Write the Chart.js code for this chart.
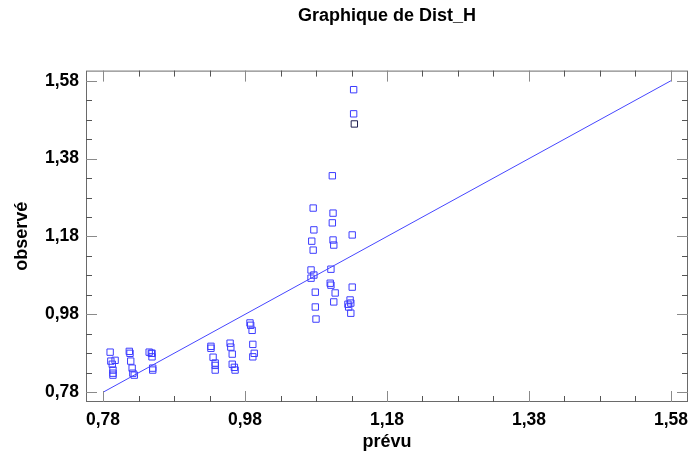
<!DOCTYPE html>
<html>
<head>
<meta charset="utf-8">
<script src="https://cdn.jsdelivr.net/npm/chart.js"></script>
<style>
html,body{margin:0;padding:0;background:#fff}
#wrap{width:689px;height:454px}
</style>
</head>
<body>
<div id="wrap"><canvas id="c" width="689" height="454"></canvas></div>
<script>
var prevu = [
    0.790, 0.791, 0.797, 0.793, 0.794, 0.794, 0.794,
    0.817, 0.818, 0.819, 0.821, 0.822, 0.824,
    0.845, 0.848, 0.849, 0.849, 0.850, 0.850,
    0.932, 0.932, 0.935, 0.938, 0.938, 0.938,
    0.959, 0.960, 0.962, 0.962, 0.965, 0.966,
    0.987, 0.988, 0.990, 0.991, 0.993, 0.991,
    1.076, 1.077, 1.074, 1.076, 1.073, 1.073, 1.077, 1.079, 1.079, 1.080,
    1.103, 1.104, 1.103, 1.104, 1.105, 1.101, 1.100, 1.101, 1.107, 1.105,
    1.133, 1.133, 1.131, 1.131, 1.128, 1.129, 1.125, 1.126, 1.129
]
var observe = [
    0.883, 0.860, 0.862, 0.852, 0.837, 0.829, 0.824,
    0.885, 0.880, 0.860, 0.842, 0.829, 0.824,
    0.883, 0.880, 0.880, 0.871, 0.842, 0.837,
    0.898, 0.893, 0.870, 0.855, 0.849, 0.837,
    0.906, 0.896, 0.878, 0.852, 0.844, 0.837,
    0.958, 0.952, 0.939, 0.903, 0.880, 0.871,
    1.253, 1.197, 1.168, 1.145, 1.094, 1.073, 1.081, 1.037, 0.999, 0.968,
    1.336, 1.240, 1.215, 1.171, 1.158, 1.096, 1.060, 1.055, 1.035, 1.012,
    1.557, 1.495, 1.184, 1.050, 1.017, 1.009, 1.006, 0.999, 0.983
]
// the one darker marker
var prevu_dark = [1.134]
var observe_dark = [1.469]

// reference line
var line_x = [0.78, 1.58]
var line_y = [0.78, 1.58]

var major_ticks = [0.78, 0.98, 1.18, 1.38, 1.58]
var minor_step = 0.05

function pts(xs, ys){
    var out = []
    for(var i = 0; i < xs.length; i++){
        out.push({x: xs[i], y: ys[i]})
    }
    return out
}

function fmt(v){
    return v.toFixed(2).replace('.', ',')
}

// frame on four sides and ticks pointing inward
var frame_ticks = {
    id: 'frameTicks',
    afterDraw: function(chart){
        var ctx = chart.ctx, a = chart.chartArea
        var sx = chart.scales.x, sy = chart.scales.y
        ctx.save()
        ctx.lineWidth = 1
        ctx.strokeStyle = '#6a6a6a'
        ctx.strokeRect(a.left + 0.5, a.top + 0.5, a.right - a.left - 1, a.bottom - a.top - 1)

        var all = []
        for(var v = major_ticks[0]; v <= major_ticks[major_ticks.length-1] + 1e-6; v += minor_step){
            all.push(Math.round(v * 100) / 100)
        }
        all.forEach(function(v){
            var major = major_ticks.some(function(m){ return Math.abs(m - v) < 1e-6 })
            var len = major ? 11 : 6
            ctx.strokeStyle = major ? '#8a8a8a' : '#555'
            var px = Math.round(sx.getPixelForValue(v)) + 0.5
            var py = Math.round(sy.getPixelForValue(v)) + 0.5
            ctx.beginPath()
            ctx.moveTo(px, a.bottom); ctx.lineTo(px, a.bottom - len)
            ctx.moveTo(px, a.top); ctx.lineTo(px, a.top + len)
            ctx.moveTo(a.left, py); ctx.lineTo(a.left + len, py)
            ctx.moveTo(a.right, py); ctx.lineTo(a.right - len, py)
            ctx.stroke()
        })
        ctx.restore()
    }
}

var font_fam = '"Liberation Sans", Arial, sans-serif'

ctx = document.getElementById('c').getContext('2d')
new Chart(ctx, {
    type: 'scatter',
    data: {
        datasets: [
            {
                type: 'line',
                data: pts(line_x, line_y),
                borderColor: 'rgb(70,70,255)',
                borderWidth: 1,
                pointRadius: 0,
                fill: false
            },
            {
                data: pts(prevu, observe),
                pointStyle: 'rect',
                pointRadius: 4.5,
                backgroundColor: 'rgba(0,0,0,0)',
                borderColor: 'rgb(60,60,255)',
                borderWidth: 1
            },
            {
                data: pts(prevu_dark, observe_dark),
                pointStyle: 'rect',
                pointRadius: 4.5,
                backgroundColor: 'rgba(0,0,0,0)',
                borderColor: 'rgb(30,30,80)',
                borderWidth: 1
            }
        ]
    },
    options: {
        responsive: false,
        animation: false,
        events: [],
        layout: {autoPadding: false, padding: {left: 0, right: 1, top: 0, bottom: 0}},
        plugins: {
            legend: {display: false},
            tooltip: {enabled: false},
            title: {
                display: true,
                text: 'Graphique de Dist_H',
                fullSize: false,
                color: '#000',
                font: {family: font_fam, size: 18, weight: 'bold'},
                padding: {top: 5, bottom: 44}
            }
        },
        scales: {
            x: {
                type: 'linear',
                min: 0.756,
                max: 1.604,
                grid: {display: false, drawTicks: false},
                border: {display: false},
                afterBuildTicks: function(axis){
                    axis.ticks = major_ticks.map(function(v){ return {value: v} })
                },
                afterFit: function(axis){
                    axis.height = 52
                    axis.paddingLeft = 0
                    axis.paddingRight = 0
                },
                ticks: {
                    color: '#000',
                    padding: 8,
                    maxRotation: 0,
                    autoSkip: false,
                    font: {family: font_fam, size: 17.5, weight: 'bold'},
                    callback: function(v){ return fmt(v) }
                },
                title: {
                    display: true,
                    text: 'prévu',
                    color: '#000',
                    font: {family: font_fam, size: 18, weight: 'bold'},
                    padding: {top: 0, bottom: 1}
                }
            },
            y: {
                type: 'linear',
                min: 0.755,
                max: 1.606,
                grid: {display: false, drawTicks: false},
                border: {display: false},
                afterBuildTicks: function(axis){
                    axis.ticks = major_ticks.map(function(v){ return {value: v} })
                },
                afterFit: function(axis){
                    axis.width = 86
                    axis.paddingTop = 0
                    axis.paddingBottom = 0
                },
                ticks: {
                    color: '#000',
                    padding: 7,
                    autoSkip: false,
                    font: {family: font_fam, size: 17.5, weight: 'bold'},
                    callback: function(v){ return fmt(v) }
                },
                title: {
                    display: true,
                    text: 'observé',
                    color: '#000',
                    font: {family: font_fam, size: 18, weight: 'bold'},
                    padding: {top: 11, bottom: 0}
                }
            }
        }
    },
    plugins: [frame_ticks]
});
</script>
</body>
</html>
